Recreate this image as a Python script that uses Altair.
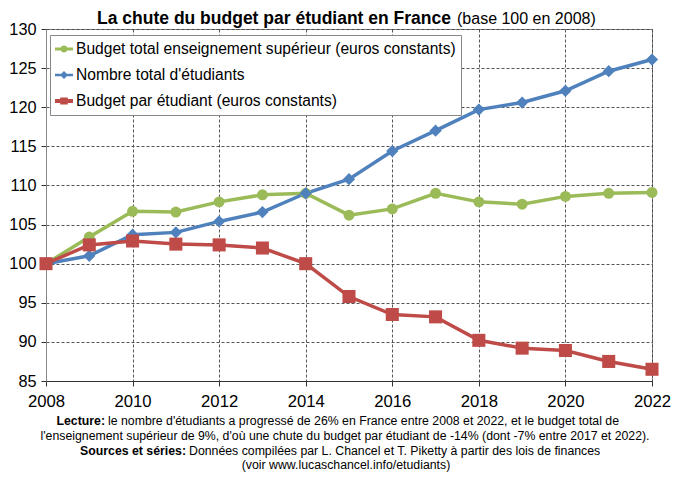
import altair as alt
import pandas as pd

years = list(range(2008, 2023))
budget_total = [100, 103.4, 106.7, 106.6, 107.9, 108.8, 109.0, 106.2, 107.0, 109.0, 107.9, 107.6, 108.6, 109.0, 109.1]
nb_etudiants = [100, 101.0, 103.7, 104.0, 105.4, 106.6, 109.0, 110.8, 114.4, 117.0, 119.7, 120.6, 122.1, 124.6, 126.1]
budget_par_etudiant = [100, 102.4, 102.9, 102.5, 102.4, 102.0, 100.0, 95.8, 93.5, 93.2, 90.2, 89.2, 88.9, 87.5, 86.5]

series_names = [
    "Budget total enseignement supérieur (euros constants)",
    "Nombre total d'étudiants",
    "Budget par étudiant (euros constants)",
]
series_colors = ["#9BBB59", "#4F81BD", "#BE4B48"]
series_shapes = ["circle", "diamond", "square"]
series_sizes = [120, 150, 170]
# legend symbols: short line with the marker in the middle (SVG paths, unit coordinates)
legend_shapes = [
    "M-1,-0.17H-0.36V0.17H-1Z M0.36,-0.17H1V0.17H0.36Z M0.4,0A0.4,0.4 0 1,1 -0.4,0A0.4,0.4 0 1,1 0.4,0Z",
    "M-1,-0.15H-0.3V0.15H-1Z M0.3,-0.15H1V0.15H0.3Z M0,-0.45L0.45,0L0,0.45L-0.45,0Z",
    "M-1,-0.22H-0.42V0.22H-1Z M0.42,-0.22H1V0.22H0.42Z M-0.42,-0.4H0.42V0.4H-0.42Z",
]

x_ticks = list(range(2008, 2023, 2))
y_ticks = list(range(85, 131, 5))

title_bold = "La chute du budget par étudiant en France"
title_normal = "(base 100 en 2008)"
note1_bold = "Lecture:"
note1 = "le nombre d'étudiants a progressé de 26% en France entre 2008 et 2022, et le budget total de"
note2 = "l'enseignement supérieur de 9%, d'où une chute du budget par étudiant de -14% (dont -7% entre 2017 et 2022)."
note3_bold = "Sources et séries:"
note3 = "Données compilées par L. Chancel et T. Piketty à partir des lois de finances"
note4 = "(voir www.lucaschancel.info/etudiants)"

rows = []
for i, (name, vals) in enumerate(zip(series_names, [budget_total, nb_etudiants, budget_par_etudiant])):
    for y, v in zip(years, vals):
        rows.append({"annee": y, "valeur": v, "serie": name, "ordre": i})
df = pd.DataFrame(rows)

FONT = "Liberation Sans"

legend_spec = alt.Legend(
    title=None, orient="none", legendX=4, legendY=6,
    strokeColor="#888888", fillColor="white", padding=5,
    labelFontSize=15.6, labelFont=FONT, labelColor="black", labelLimit=600,
    labelOffset=3, rowPadding=8, symbolSize=324, symbolStrokeWidth=0,
)

x_enc = alt.X("annee:Q", scale=alt.Scale(domain=[2008, 2022], nice=False, zero=False),
              axis=alt.Axis(values=x_ticks, format="d", title=None, labelFontSize=16.7, labelFont=FONT,
                            labelColor="black", tickColor="#333", tickSize=5, domainColor="#333",
                            labelPadding=7, gridColor="#444", gridDash=[3, 2], gridOpacity=0.9,
                            labelFlush=False))
y_enc = alt.Y("valeur:Q", scale=alt.Scale(domain=[85, 130], nice=False, zero=False),
              axis=alt.Axis(values=y_ticks, title=None, labelFontSize=16.3, labelFont=FONT,
                            labelColor="black", tickColor="#333", tickSize=5, domainColor="#888",
                            labelPadding=5, gridColor="#444", gridDash=[3, 2], gridOpacity=0.9))
color_scale = alt.Scale(domain=series_names, range=series_colors)

line_layers = []
point_layers = []
for name, col, shp, sz in zip(series_names, series_colors, series_shapes, series_sizes):
    base = alt.Chart(df).transform_filter(alt.datum.serie == name)
    line_layers.append(base.mark_line(strokeWidth=3.5, color=col).encode(x=x_enc, y=y_enc))
    point_layers.append(
        base.mark_point(filled=True, opacity=1, shape=shp, size=sz, color=col).encode(x=x_enc, y=y_enc)
    )

# empty layer that only carries the legend (line + marker symbols)
legend_layer = alt.Chart(df).transform_filter("false").mark_point(filled=True, opacity=1).encode(
    x=x_enc, y=y_enc,
    color=alt.Color("serie:N", scale=color_scale, legend=legend_spec),
    shape=alt.Shape("serie:N", scale=alt.Scale(domain=series_names, range=legend_shapes), legend=legend_spec),
)

def txt(text, x, y, size=12.3, bold=False, align="center", baseline="middle"):
    return alt.Chart(pd.DataFrame({"t": [text]})).mark_text(
        font=FONT, fontSize=size, fontWeight="bold" if bold else "normal",
        align=align, baseline=baseline, color="black"
    ).encode(text="t:N", x=alt.value(x), y=alt.value(y))

texts = [
    txt(title_bold, 405, -5, 17.5, True, "right", "alphabetic"),
    txt(title_normal, 411, -5, 16, False, "left", "alphabetic"),
    txt(note1_bold, 59, 392, 12.3, True, "right"),
    txt(note1, 62, 392, 12.3, False, "left"),
    txt(note2, 299, 407, 12.3, False, "center"),
    txt(note3_bold, 140, 422, 12.3, True, "right"),
    txt(note3, 143, 422, 12.3, False, "left"),
    txt(note4, 300, 435.5, 12.3, False, "center"),
]

chart = alt.layer(*line_layers, *point_layers, legend_layer, *texts).properties(
    width=606, height=352,
    autosize=alt.AutoSizeParams(type="none"),
    padding={"left": 38, "top": 21, "right": 20, "bottom": 91},
    background="white",
).configure_view(stroke="#888888", strokeWidth=1)

chart.save("out.html", embed_options={"renderer": "svg", "actions": False})
